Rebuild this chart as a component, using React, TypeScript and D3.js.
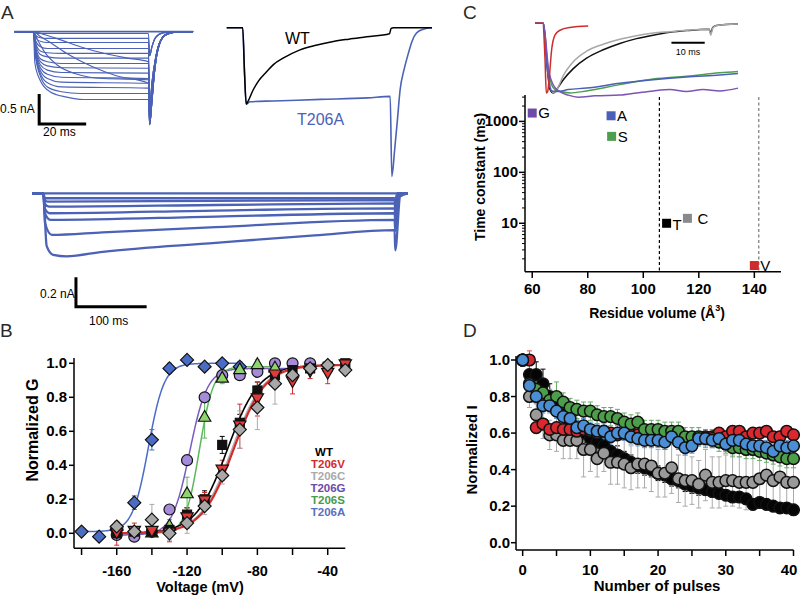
import React from 'react';
import * as d3 from 'd3';

const FONT = "'Liberation Sans', Arial, Helvetica, sans-serif";
type P = [number, number];

// ================= Panel A (current traces) =================
const traceBlue = '#4b62b6';
// family of T206A traces (time ms, current nA)
const aPre: P[] = [[-8, 0], [0, 0]];
const aActivation: P[][] = [
  [[1, -0.02], [3, -0.03], [49, -0.03]],
  [[1, -0.06], [3, -0.1], [6, -0.11], [49, -0.11]],
  [[1, -0.1], [3, -0.16], [6, -0.18], [49, -0.18]],
  [[1, -0.15], [3, -0.25], [6, -0.28], [49, -0.28]],
  [[1, -0.19], [3, -0.32], [6, -0.35], [12, -0.36], [49, -0.36]],
  [[1, -0.22], [3, -0.38], [6, -0.42], [12, -0.44], [49, -0.44]],
  [[1, -0.26], [3, -0.45], [6, -0.5], [12, -0.53], [49, -0.53]],
  [[1, -0.3], [3, -0.5], [6, -0.57], [12, -0.6], [49, -0.61]],
  [[1, -0.32], [3, -0.55], [6, -0.64], [12, -0.68], [49, -0.69]],
  [[1, -0.35], [3, -0.6], [6, -0.71], [12, -0.76], [49, -0.78]],
  [[1, -0.38], [3, -0.65], [6, -0.78], [12, -0.84], [49, -0.86]],
  [[1, -0.4], [3, -0.7], [6, -0.85], [12, -0.92], [49, -0.94]],
  [[1, -0.42], [3, -0.74], [6, -0.92], [12, -1.0], [20, -1.03], [49, -1.03]],
  [[0.7, -0.53], [2.8, -0.8], [7.1, -1.0], [14.2, -1.09], [21.3, -1.13], [49, -1.13]],
  [[3, -0.08], [8, -0.2], [15, -0.38], [25, -0.58], [35, -0.73], [49, -0.86]],
  [[5, -0.05], [12, -0.14], [20, -0.25], [30, -0.36], [40, -0.44], [49, -0.5]],
  [[2, -0.15], [5, -0.35], [10, -0.55], [18, -0.7], [30, -0.78], [49, -0.8]],
];
const aTailSmall: P[] = [[49.5, -0.4], [50.5, -0.25], [52, -0.1], [55, -0.02], [60, 0], [68, 0]];
const aTailA: P[] = [[49.5, -1.55], [50.5, -1.15], [51.5, -0.7], [52.5, -0.4], [54, -0.17], [56, -0.06], [60, -0.01], [68, 0]];
const aTailB: P[] = [[49.5, -1.45], [50.5, -1.0], [51.5, -0.6], [53, -0.27], [55, -0.1], [58, -0.02], [68, 0]];
const aTailC: P[] = [[49.5, -1.3], [50.5, -0.85], [52, -0.45], [54, -0.16], [57, -0.04], [62, 0], [68, 0]];
const aTails = [aTailSmall, aTailA, aTailB, aTailC];
const aTailIdx = [0, 0, 0, 3, 2, 1, 3, 2, 1, 3, 2, 1, 1, 1, 2, 3, 1];
const aBaseline: P[] = [[-8, 0], [68, 0]];

// WT vs T206A comparison (time ms, normalized current)
const wtTrace: P[] = [[0, 0], [6.8, 0], [7.6, -0.6], [8.3, -1.0], [9, -0.97], [11.2, -0.82], [13.5, -0.7], [16.9, -0.58], [20, -0.48], [24, -0.4], [31.2, -0.29], [38, -0.23], [45.4, -0.18], [52, -0.15], [59.6, -0.12], [69.3, -0.08], [70, -0.01], [71, 0], [87.4, 0]];
const t206aTrace: P[] = [[0, 0], [6.8, 0], [7.6, -0.6], [8.3, -1.0], [10, -0.97], [20, -0.96], [40, -0.94], [60, -0.92], [69.6, -0.9], [70.3, -1.95], [71.5, -1.6], [72.7, -1.2], [73.8, -0.82], [75.5, -0.55], [77.3, -0.34], [79, -0.17], [80.8, -0.07], [83.7, -0.02], [87.4, 0]];

// long pulses T206A (time ms, current nA)
const longTraces: P[][] = [
  [[0, 0], [532, 0]],
  [[0, 0], [16, 0], [18, -0.03], [22, -0.033], [513, -0.033], [514, -0.05], [517, 0], [532, 0]],
  [[0, 0], [16, 0], [18, -0.045], [22, -0.056], [260, -0.05], [513, -0.045], [514, -0.07], [517, 0], [532, 0]],
  [[0, 0], [16, 0], [18, -0.07], [24, -0.089], [260, -0.078], [513, -0.067], [514, -0.1], [518, 0], [532, 0]],
  [[0, 0], [16, 0], [18, -0.1], [25, -0.133], [260, -0.115], [513, -0.1], [514, -0.14], [518, 0], [532, 0]],
  [[0, 0], [16, 0], [18, -0.13], [26, -0.177], [260, -0.155], [513, -0.133], [514, -0.18], [519, 0], [532, 0]],
  [[0, 0], [16, 0], [18.5, -0.2], [28, -0.277], [100, -0.26], [260, -0.225], [513, -0.177], [514, -0.25], [520, -0.01], [532, 0]],
  [[0, 0], [16, 0], [20.7, -0.35], [30, -0.41], [49, -0.42], [100, -0.39], [260, -0.33], [400, -0.28], [513, -0.245], [514, -0.38], [521, -0.02], [532, 0]],
];

// ================= Panel B (G-V) =================
const bVolt = [-180, -170, -160, -150, -140, -130, -120, -110, -100, -90, -80, -70, -60, -50, -40, -30];
const bWT = [null, null, 0.0, 0.01, 0.01, 0.02, 0.11, 0.2, 0.52, 0.65, 0.84, 0.93, 0.96, 0.97, 0.98, 1.0];
const bWTerr = [0, 0, 0.03, 0.03, 0.02, 0.02, 0.04, 0.05, 0.05, 0.05, 0.05, 0.04, 0.03, 0.02, 0.02, 0.02];
const bV = [null, null, 0.0, 0.01, 0.01, 0.0, 0.09, 0.19, 0.37, 0.63, 0.79, 0.93, 0.89, 0.95, 0.94, 0.99];
const bVerr = [0, 0, 0.07, 0.05, 0.03, 0.05, 0.06, 0.05, 0.06, 0.13, 0.1, 0.05, 0.07, 0.04, 0.06, 0.02];
const bC = [null, null, 0.04, 0.01, 0.08, 0.0, 0.06, 0.16, 0.34, 0.61, 0.74, 0.88, 0.93, 0.97, 0.99, 0.96];
const bCerr = [0, 0, 0.03, 0.03, 0.09, 0.04, 0.06, 0.05, 0.05, 0.11, 0.13, 0.12, 0.05, 0.03, 0.02, 0.03];
const bG = [null, null, -0.01, -0.02, 0.01, 0.14, 0.43, 0.8, 0.93, 0.93, 0.95, 1.0, 1.0, 1.0, null, null];
const bGerr = [0, 0, 0.02, 0.02, 0.02, 0.02, 0.02, 0.02, 0.02, 0.02, 0.02, 0.02, 0.02, 0.02, 0, 0];
const bS = [null, null, null, null, 0.01, 0.05, 0.24, 0.69, 0.92, 0.97, 1.0, 0.98, null, null, null, null];
const bSerr = [0, 0, 0, 0, 0.02, 0.03, 0.09, 0.13, 0.04, 0.03, 0.02, 0.03, 0, 0, 0, 0];
const bA = [0.01, -0.02, 0.02, 0.18, 0.55, 0.97, 1.02, 0.98, 1.0, 0.98, null, null, null, null, null, null];
const bAerr = [0.01, 0.01, 0.02, 0.04, 0.06, 0.03, 0.02, 0.02, 0.02, 0.03, 0, 0, 0, 0, 0, 0];
// Boltzmann fit parameters: T206A, T206G, T206S, WT, T206C, T206V
const fitV50 = [-142, -118.5, -113, -97, -94.5, -93.5];
const fitK = [4.5, 5, 4, 9, 9, 9];
const fitMin = [0.01, -0.01, 0.0, 0.0, 0.0, 0.0];
const fitMax = [1.0, 0.97, 0.98, 0.99, 0.99, 0.99];
const fitFrom = [-180, -160, -140, -160, -160, -160];
const fitTo = [-90, -60, -70, -30, -30, -30];
const fitColor = ['#4a6cc4', '#7a5cc0', '#5cb85c', '#000000', '#b0b0b0', '#d42a2a'];
const fitWidth = [1.5, 1.5, 1.5, 1.6, 1.5, 2.2];
const bLegend = ['WT', 'T206V', 'T206C', 'T206G', 'T206S', 'T206A'];
const bLegendColor = ['#000000', '#d42a2a', '#aaaaaa', '#6a4aa8', '#4a9a4a', '#5a70c0'];
const bXTicks = [-180, -160, -140, -120, -100, -80, -60, -40];
const bXLabels = [-160, -120, -80, -40];
const bYTicks = [0, 0.2, 0.4, 0.6, 0.8, 1.0];

// ================= Panel C =================
const cResidue = ['G', 'A', 'S', 'T', 'C', 'V'];
const cVolume = [60, 88.4, 88.6, 108.4, 115.9, 140];
const cTau = [1460, 1290, 508, 10, 12.5, 1.48];
const cColor = ['#6e4aa8', '#4a5fb8', '#4e9e50', '#000000', '#8a8a8a', '#d02b2b'];
const cDashed = [105.8, 141.6];
const cDashedColor = ['#000000', '#777777'];
const cXTicks = [60, 80, 100, 120, 140];
const cYLabels = [10, 100, 1000];
// normalized current traces (ms)
const cTopRed: P[] = [[0, 0], [2.3, 0], [3.0, -0.5], [3.4, -1.0], [3.8, -0.98], [4.3, -0.77], [5.0, -0.38], [6, -0.17], [7.5, -0.1], [10.5, -0.06], [16, -0.04]];
const cTopBlack: P[] = [[0, 0], [2.5, 0], [3.6, -0.6], [4.5, -0.95], [5.5, -1.0], [6.5, -0.95], [8.5, -0.81], [11.5, -0.65], [15.5, -0.5], [20.5, -0.38], [25.5, -0.29], [30.5, -0.22], [35.5, -0.17], [40.5, -0.13], [45.5, -0.105], [52.3, -0.085], [52.8, -0.14], [53.4, -0.06], [54.5, -0.03], [61, -0.01]];
const cTopGray: P[] = [[0, 0], [2.5, 0], [3.8, -0.6], [4.8, -0.95], [5.8, -1.0], [6.8, -0.93], [8.5, -0.75], [11.5, -0.55], [15.5, -0.4], [20.5, -0.3], [25.5, -0.23], [30.5, -0.18], [35.5, -0.14], [40.5, -0.12], [45.5, -0.1], [52.3, -0.085], [52.8, -0.17], [53.4, -0.07], [54.5, -0.03], [61, -0.01]];
const cTopBlue: P[] = [[0, 0], [2.5, 0], [3.8, -0.7], [5, -0.97], [7, -0.98], [10, -0.95], [15.5, -0.93], [25.5, -0.86], [35.5, -0.81], [45.5, -0.77], [55.5, -0.74], [61, -0.72]];
const cTopGreen: P[] = [[0, 0], [2.5, 0], [4, -0.7], [6, -0.95], [10.5, -1.0], [15.5, -0.97], [25.5, -0.88], [35.5, -0.8], [45.5, -0.76], [55.5, -0.71], [61, -0.69]];
const cTopPurple: P[] = [[0, 0], [2.5, 0], [4.2, -0.7], [6.5, -0.95], [10, -1.03], [13, -1.06], [18, -1.04], [25.5, -1.03], [30.5, -1.0], [35.5, -0.97], [40.5, -0.95], [45.5, -0.98], [50.5, -0.95], [55.5, -0.97], [61, -0.93]];

// ================= Panel D =================
const dPulse = [0, 1, 2, 3, 4, 5, 6, 7, 8, 9, 10, 11, 12, 13, 14, 15, 16, 17, 18, 19, 20, 21, 22, 23, 24, 25, 26, 27, 28, 29, 30, 31, 32, 33, 34, 35, 36, 37, 38, 39, 40];
const dWT = [1.0, 0.92, 0.92, 0.87, 0.8, 0.75, 0.7, 0.66, 0.62, 0.6, 0.57, 0.55, 0.53, 0.5, 0.48, 0.46, 0.44, 0.42, 0.41, 0.4, 0.38, 0.37, 0.35, 0.34, 0.32, 0.31, 0.3, 0.29, 0.28, 0.27, 0.26, 0.25, 0.25, 0.24, 0.21, 0.22, 0.21, 0.2, 0.19, 0.19, 0.18];
const dWTerr = [0, 0.08, 0.07, 0.08, 0.07, 0.06, 0.06, 0.06, 0.05, 0.05, 0.05, 0.05, 0.05, 0.05, 0.05, 0.04, 0.04, 0.04, 0.04, 0.04, 0.04, 0.04, 0.04, 0.04, 0.04, 0.04, 0.04, 0.03, 0.03, 0.03, 0.03, 0.03, 0.03, 0.03, 0.03, 0.03, 0.03, 0.03, 0.03, 0.03, 0.03];
const dC = [1.0, 0.8, 0.7, 0.65, 0.59, 0.59, 0.56, 0.56, 0.56, 0.51, 0.51, 0.46, 0.49, 0.44, 0.44, 0.43, 0.41, 0.43, 0.43, 0.42, 0.38, 0.38, 0.41, 0.35, 0.34, 0.34, 0.32, 0.37, 0.33, 0.33, 0.34, 0.34, 0.33, 0.33, 0.33, 0.35, 0.37, 0.34, 0.36, 0.33, 0.33];
const dCerr = [0, 0.06, 0.07, 0.08, 0.08, 0.09, 0.1, 0.1, 0.1, 0.15, 0.12, 0.1, 0.1, 0.12, 0.12, 0.13, 0.12, 0.13, 0.13, 0.14, 0.13, 0.13, 0.14, 0.13, 0.14, 0.13, 0.13, 0.14, 0.14, 0.14, 0.14, 0.14, 0.14, 0.15, 0.15, 0.15, 0.15, 0.16, 0.16, 0.16, 0.16];
const dV = [1.0, 1.0, 0.63, 0.65, 0.62, 0.63, 0.62, 0.62, 0.61, 0.62, 0.61, 0.6, 0.61, 0.6, 0.59, 0.6, 0.59, 0.59, 0.58, 0.58, 0.59, 0.58, 0.58, 0.57, 0.57, 0.57, 0.57, 0.58, 0.58, 0.6, 0.58, 0.61, 0.61, 0.58, 0.6, 0.6, 0.61, 0.58, 0.58, 0.61, 0.59];
const dVerr = [0, 0.05, 0.03, 0.03, 0.03, 0.03, 0.03, 0.03, 0.03, 0.03, 0.03, 0.03, 0.03, 0.03, 0.03, 0.03, 0.03, 0.03, 0.03, 0.03, 0.03, 0.03, 0.03, 0.03, 0.03, 0.03, 0.03, 0.03, 0.03, 0.03, 0.03, 0.03, 0.03, 0.03, 0.03, 0.03, 0.03, 0.03, 0.03, 0.03, 0.03];
const dA = [1.0, 0.86, 0.8, 0.75, 0.75, 0.72, 0.69, 0.68, 0.63, 0.64, 0.62, 0.61, 0.61, 0.58, 0.6, 0.6, 0.58, 0.57, 0.56, 0.56, 0.56, 0.55, 0.58, 0.55, 0.52, 0.53, 0.57, 0.57, 0.56, 0.57, 0.54, 0.56, 0.56, 0.54, 0.53, 0.53, 0.52, 0.5, 0.53, 0.52, 0.53];
const dAerr = [0, 0.04, 0.04, 0.04, 0.04, 0.04, 0.04, 0.04, 0.04, 0.04, 0.04, 0.04, 0.04, 0.04, 0.04, 0.04, 0.04, 0.04, 0.04, 0.04, 0.04, 0.04, 0.04, 0.04, 0.04, 0.04, 0.04, 0.04, 0.04, 0.04, 0.04, 0.04, 0.04, 0.04, 0.04, 0.04, 0.04, 0.04, 0.04, 0.04, 0.04];
const dS = [1.0, 0.87, 0.84, 0.82, 0.78, 0.8, 0.77, 0.74, 0.73, 0.72, 0.72, 0.7, 0.69, 0.69, 0.68, 0.66, 0.65, 0.66, 0.62, 0.62, 0.62, 0.61, 0.61, 0.61, 0.58, 0.58, 0.58, 0.57, 0.57, 0.55, 0.54, 0.52, 0.52, 0.51, 0.51, 0.5, 0.49, 0.48, 0.47, 0.46, 0.46];
const dSerr = [0, 0.05, 0.05, 0.05, 0.06, 0.08, 0.05, 0.05, 0.05, 0.05, 0.05, 0.05, 0.05, 0.05, 0.05, 0.05, 0.05, 0.05, 0.05, 0.05, 0.05, 0.05, 0.05, 0.05, 0.05, 0.05, 0.05, 0.05, 0.05, 0.05, 0.05, 0.05, 0.05, 0.05, 0.05, 0.05, 0.05, 0.05, 0.05, 0.05, 0.05];
const dXTicks = [0, 5, 10, 15, 20, 25, 30, 35, 40];
const dXLabels = [0, 10, 20, 30, 40];
const dYTicks = [0, 0.2, 0.4, 0.6, 0.8, 1.0];

// ================= helpers =================
function traceLine(xs: d3.ScaleLinear<number, number>, ys: d3.ScaleLinear<number, number>) {
  return d3.line<P>().x(d => xs(d[0])).y(d => ys(d[1])).curve(d3.curveMonotoneX);
}

function Letter({ x, y, t }: { x: number; y: number; t: string }) {
  return <text x={x} y={y} fontSize={19} fill="#2a2a2a" fontFamily={FONT}>{t}</text>;
}

function PanelA() {
  const x1 = d3.scaleLinear().domain([0, 20]).range([33.3, 80.3]);
  const y1 = d3.scaleLinear().domain([0, -0.5]).range([31.7, 61.7]);
  const l1 = traceLine(x1, y1);
  const fam = aActivation.map((act, i) => [...aPre, ...act, ...aTails[aTailIdx[i]]] as P[]);

  const x2 = d3.scaleLinear().domain([0, 87.4]).range([226.7, 432]);
  const y2 = d3.scaleLinear().domain([0, -1]).range([27.7, 104]);
  const l2 = traceLine(x2, y2);

  const x3 = d3.scaleLinear().domain([0, 532]).range([32, 408]);
  const y3 = d3.scaleLinear().domain([0, -0.2]).range([193.3, 223.3]);
  const l3 = traceLine(x3, y3);

  return (
    <g>
      <Letter x={1} y={19} t="A" />
      <path d={l1(aBaseline) || ''} fill="none" stroke={traceBlue} strokeWidth={1.8} />
      {fam.map((tr, i) => (
        <path key={i} d={l1(tr) || ''} fill="none" stroke={traceBlue} strokeWidth={1.15} />
      ))}
      {/* scale bar left */}
      <path d={`M${x1(2.5)},${y1(-1.04)} L${x1(2.5)},${y1(-1.54)} L${x1(22.5)},${y1(-1.54)}`} fill="none" stroke="#000" strokeWidth={3} />
      <text x={0} y={113} fontSize={12} fontFamily={FONT}>0.5 nA</text>
      <text x={43} y={136} fontSize={12} fontFamily={FONT}>20 ms</text>

      {/* WT vs T206A */}
      <path d={l2(t206aTrace) || ''} fill="none" stroke={traceBlue} strokeWidth={1.6} />
      <path d={l2(wtTrace) || ''} fill="none" stroke="#000" strokeWidth={1.5} />
      <text x={285} y={43.5} fontSize={16} fontFamily={FONT}>WT</text>
      <text x={297} y={125} fontSize={16} fontFamily={FONT} fill={traceBlue}>T206A</text>

      {/* long pulses */}
      {longTraces.map((tr, i) => (
        <path key={i} d={l3(tr) || ''} fill="none" stroke={traceBlue} strokeWidth={2.3} />
      ))}
      <path d={`M${x3(62.2)},${y3(-0.56)} L${x3(62.2)},${y3(-0.756)} L${x3(162.2)},${y3(-0.756)}`} fill="none" stroke="#000" strokeWidth={3} />
      <text x={40} y={298} fontSize={12} fontFamily={FONT}>0.2 nA</text>
      <text x={89} y={325} fontSize={12} fontFamily={FONT}>100 ms</text>
    </g>
  );
}

function diamondPath(cx: number, cy: number, r: number) {
  return `M${cx},${cy - r} L${cx + r},${cy} L${cx},${cy + r} L${cx - r},${cy} Z`;
}
function triPath(cx: number, cy: number, r: number, up: boolean) {
  const s = up ? 1 : -1;
  return `M${cx},${cy - s * r} L${cx + r * 0.95},${cy + s * r * 0.65} L${cx - r * 0.95},${cy + s * r * 0.65} Z`;
}

function PanelB() {
  const x = d3.scaleLinear().domain([-184.3, -30]).range([74, 345.3]);
  const y = d3.scaleLinear().domain([0, 1]).range([533.3, 363.3]);
  const boltz = (i: number) => {
    const pts: P[] = d3.range(fitFrom[i], fitTo[i] + 0.01, 0.5).map(v => [v, fitMin[i] + (fitMax[i] - fitMin[i]) / (1 + Math.exp((fitV50[i] - v) / fitK[i]))] as P);
    return d3.line<P>().x(d => x(d[0])).y(d => y(d[1]))(pts) || '';
  };
  const series = [
    { vals: bA, err: bAerr, shape: 'diamond', fill: '#4a6cc4', ec: '#4a6cc4' },
    { vals: bG, err: bGerr, shape: 'circle', fill: '#a58bd8', ec: '#7a5cc0' },
    { vals: bS, err: bSerr, shape: 'tri', fill: '#8ed46e', ec: '#5cb85c' },
    { vals: bWT, err: bWTerr, shape: 'square', fill: '#111111', ec: '#000' },
    { vals: bV, err: bVerr, shape: 'tridown', fill: '#e03a3a', ec: '#d42a2a' },
    { vals: bC, err: bCerr, shape: 'diamond', fill: '#a8a8a8', ec: '#aaaaaa' },
  ];
  return (
    <g fontFamily={FONT}>
      <Letter x={0} y={337} t="B" />
      {/* axes */}
      <line x1={74} x2={74} y1={358} y2={548.3} stroke="#000" strokeWidth={1.5} />
      <line x1={74} x2={345.3} y1={548.3} y2={548.3} stroke="#000" strokeWidth={1.5} />
      {bYTicks.map(t => (
        <g key={t}>
          <line x1={69} x2={74} y1={y(t)} y2={y(t)} stroke="#000" strokeWidth={1.5} />
          <text x={67} y={y(t) + 5} fontSize={15} fontWeight="bold" textAnchor="end">{t.toFixed(1)}</text>
        </g>
      ))}
      {bXTicks.map(t => (
        <line key={t} x1={x(t)} x2={x(t)} y1={549} y2={555} stroke="#000" strokeWidth={1.5} />
      ))}
      {bXLabels.map(t => (
        <text key={t} x={x(t)} y={576} fontSize={14.5} fontWeight="bold" textAnchor="middle">{t}</text>
      ))}
      <text x={200} y={592} fontSize={14.5} fontWeight="bold" textAnchor="middle">Voltage (mV)</text>
      <text transform="translate(38,430) rotate(-90)" fontSize={16} fontWeight="bold" textAnchor="middle">Normalized G</text>
      {/* error bars */}
      {series.map((s, si) => (
        <g key={'e' + si} stroke={s.ec} strokeWidth={1}>
          {s.vals.map((v, i) => v === null || !s.err[i] ? null : (
            <g key={i}>
              <line x1={x(bVolt[i])} x2={x(bVolt[i])} y1={y(v - s.err[i])} y2={y(v + s.err[i])} />
              <line x1={x(bVolt[i]) - 2.5} x2={x(bVolt[i]) + 2.5} y1={y(v - s.err[i])} y2={y(v - s.err[i])} />
              <line x1={x(bVolt[i]) - 2.5} x2={x(bVolt[i]) + 2.5} y1={y(v + s.err[i])} y2={y(v + s.err[i])} />
            </g>
          ))}
        </g>
      ))}
      {/* fits */}
      {fitV50.map((_, i) => (
        <path key={'f' + i} d={boltz(i)} fill="none" stroke={fitColor[i]} strokeWidth={fitWidth[i]} />
      ))}
      {/* markers */}
      {series.map((s, si) => (
        <g key={'m' + si} fill={s.fill} stroke="#111" strokeWidth={1.2}>
          {s.vals.map((v, i) => {
            if (v === null) return null;
            const cx = x(bVolt[i]);
            const cy = y(v);
            if (s.shape === 'diamond') return <path key={i} d={diamondPath(cx, cy, 6.5)} />;
            if (s.shape === 'circle') return <circle key={i} cx={cx} cy={cy} r={5.5} />;
            if (s.shape === 'square') return <rect key={i} x={cx - 4.5} y={cy - 4.5} width={9} height={9} />;
            if (s.shape === 'tri') return <path key={i} d={triPath(cx, cy + 1, 6.5, true)} />;
            return <path key={i} d={triPath(cx, cy - 1, 6.5, false)} />;
          })}
        </g>
      ))}
      {/* legend */}
      {bLegend.map((t, i) => (
        <text key={t} x={i === 0 ? 324 : 328} y={456 + i * 12} fontSize={11.5} fontWeight="bold" fill={bLegendColor[i]} textAnchor="middle">{t}</text>
      ))}
    </g>
  );
}

function PanelC() {
  const x = d3.scaleLinear().domain([57.4, 149.6]).range([525, 781]);
  const y = d3.scaleLog().domain([1.12, 3300]).range([271.7, 95]);
  const minor: number[] = [];
  [1, 10, 100, 1000].forEach(dec => {
    for (let m = 1; m <= 9; m++) {
      const v = dec * m;
      if (v >= 1.12 && v <= 3300 && m !== 1) minor.push(v);
    }
  });
  const xt = d3.scaleLinear().domain([0, 61]).range([535, 738]);
  const yt = d3.scaleLinear().domain([0, -1]).range([23.3, 93]);
  const lt = traceLine(xt, yt);
  const tops: { d: P[]; c: string }[] = [
    { d: cTopBlack, c: '#111111' },
    { d: cTopGray, c: '#a8a8a8' },
    { d: cTopGreen, c: '#4e9e50' },
    { d: cTopBlue, c: '#4a5fb8' },
    { d: cTopPurple, c: '#7a55b5' },
    { d: cTopRed, c: '#d02b2b' },
  ];
  return (
    <g fontFamily={FONT}>
      <Letter x={463} y={19} t="C" />
      {tops.map((t, i) => (
        <path key={i} d={lt(t.d) || ''} fill="none" stroke={t.c} strokeWidth={1.5} />
      ))}
      <line x1={xt(41)} x2={xt(51)} y1={42.7} y2={42.7} stroke="#000" strokeWidth={2} />
      <text x={xt(46)} y={55} fontSize={9} textAnchor="middle">10 ms</text>

      {/* dashed lines */}
      {cDashed.map((v, i) => (
        <line key={i} x1={x(v)} x2={x(v)} y1={97} y2={271.7} stroke={cDashedColor[i]} strokeWidth={1.2} strokeDasharray="3,2.5" />
      ))}
      {/* axes */}
      <line x1={525} x2={525} y1={95} y2={271.7} stroke="#000" strokeWidth={1.5} />
      <line x1={525} x2={781} y1={271.7} y2={271.7} stroke="#000" strokeWidth={1.5} />
      {minor.map(v => (
        <line key={v} x1={522} x2={525} y1={y(v)} y2={y(v)} stroke="#000" strokeWidth={1} />
      ))}
      {cYLabels.map(v => (
        <g key={v}>
          <line x1={519} x2={525} y1={y(v)} y2={y(v)} stroke="#000" strokeWidth={1.5} />
          <text x={518} y={y(v) + 5} fontSize={15} fontWeight="bold" textAnchor="end">{v}</text>
        </g>
      ))}
      {cXTicks.map(v => (
        <g key={v}>
          <line x1={x(v)} x2={x(v)} y1={272} y2={278} stroke="#000" strokeWidth={1.5} />
          <text x={x(v)} y={294} fontSize={15} fontWeight="bold" textAnchor="middle">{v}</text>
        </g>
      ))}
      <text x={657} y={318} fontSize={14} fontWeight="bold" textAnchor="middle">
        Residue volume (Å<tspan dy={-7} fontSize={9}>3</tspan><tspan dy={7}>)</tspan>
      </text>
      <text transform="translate(485,177) rotate(-90)" fontSize={14} fontWeight="bold" textAnchor="middle">Time constant (ms)</text>
      {/* points */}
      {cResidue.map((r, i) => {
        const cx = x(cVolume[i]);
        const cy = y(cTau[i]);
        const dy = r === 'T' ? 7 : r === 'G' ? 5 : 5.5;
        const dx = r === 'C' ? 10 : 6;
        return (
          <g key={r}>
            <rect x={cx - 4.5} y={cy - 4.5} width={9} height={9} fill={cColor[i]} />
            <text x={cx + dx} y={cy + dy} fontSize={15}>{r}</text>
          </g>
        );
      })}
    </g>
  );
}

function PanelD() {
  const x = d3.scaleLinear().domain([-1, 40]).range([515.9, 793.5]);
  const y = d3.scaleLinear().domain([0, 1]).range([542.7, 360]);
  const series = [
    { vals: dWT, err: dWTerr, fill: '#050505', ec: '#000' },
    { vals: dC, err: dCerr, fill: '#9a9a9a', ec: '#aaaaaa' },
    { vals: dV, err: dVerr, fill: '#d9282f', ec: '#e05050' },
    { vals: dS, err: dSerr, fill: '#4d9e4a', ec: '#6aaa6a' },
    { vals: dA, err: dAerr, fill: '#4a8fd6', ec: '#5a90d0' },
  ];
  return (
    <g fontFamily={FONT}>
      <Letter x={463} y={337} t="D" />
      <line x1={516} x2={516} y1={356} y2={550} stroke="#000" strokeWidth={1.5} />
      <line x1={516} x2={793.5} y1={550} y2={550} stroke="#000" strokeWidth={1.5} />
      {dYTicks.map(t => (
        <g key={t}>
          <line x1={511} x2={516} y1={y(t)} y2={y(t)} stroke="#000" strokeWidth={1.5} />
          <text x={510} y={y(t) + 5} fontSize={15} fontWeight="bold" textAnchor="end">{t.toFixed(1)}</text>
        </g>
      ))}
      {dXTicks.map(t => (
        <line key={t} x1={x(t)} x2={x(t)} y1={550} y2={556} stroke="#000" strokeWidth={1.5} />
      ))}
      {dXLabels.map(t => (
        <text key={t} x={Math.min(x(t), 789)} y={575} fontSize={15} fontWeight="bold" textAnchor="middle">{t}</text>
      ))}
      <text x={657} y={591} fontSize={15} fontWeight="bold" textAnchor="middle">Number of pulses</text>
      <text transform="translate(477,450) rotate(-90)" fontSize={15} fontWeight="bold" textAnchor="middle">Normalized I</text>
      {series.map((s, si) => (
        <g key={'e' + si} stroke={s.ec} strokeWidth={1}>
          {s.vals.map((v, i) => !s.err[i] ? null : (
            <g key={i}>
              <line x1={x(dPulse[i])} x2={x(dPulse[i])} y1={y(v - s.err[i])} y2={y(v + s.err[i])} />
              <line x1={x(dPulse[i]) - 2.5} x2={x(dPulse[i]) + 2.5} y1={y(v - s.err[i])} y2={y(v - s.err[i])} />
              <line x1={x(dPulse[i]) - 2.5} x2={x(dPulse[i]) + 2.5} y1={y(v + s.err[i])} y2={y(v + s.err[i])} />
            </g>
          ))}
        </g>
      ))}
      {series.map((s, si) => (
        <g key={'m' + si} fill={s.fill} stroke="#111" strokeWidth={1.5}>
          {s.vals.map((v, i) => (
            <circle key={i} cx={x(dPulse[i])} cy={y(v)} r={5.8} />
          ))}
        </g>
      ))}
    </g>
  );
}

export default function App() {
  return (
    <svg width={800} height={595} viewBox="0 0 800 595" style={{ position: 'absolute', left: 0, top: 0, background: '#fff' }} fontFamily={FONT}>
      <rect width={800} height={595} fill="#fff" />
      <PanelA />
      <PanelB />
      <PanelC />
      <PanelD />
    </svg>
  );
}
